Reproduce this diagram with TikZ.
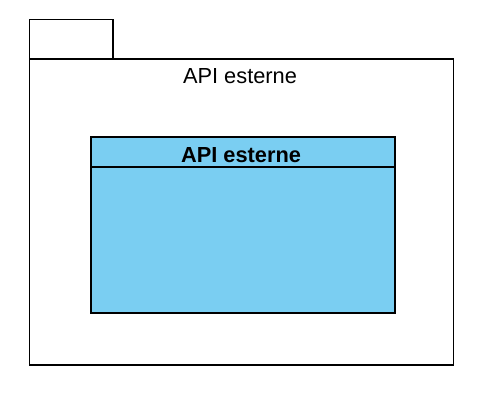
\documentclass[tikz,border=0pt]{standalone}
\usepackage{fontspec}
\setmainfont{Liberation Sans}
\definecolor{classblue}{RGB}{122,206,242}
\begin{document}
\begin{tikzpicture}[x=1pt,y=-1pt,
  line/.style={draw=black,line width=1.6pt},
  lbl/.style={inner sep=0pt,font=\fontsize{21.8}{25}\selectfont}]
\useasboundingbox (0,0) rectangle (500,400);
\path[line] (29.5,19.5) rectangle (113,59);
\path[line] (29.5,59) rectangle (453.5,365);
\node[lbl,anchor=base] (pkglabel) at (240,83.5) {API esterne};
\path[line,fill=classblue] (91,137) rectangle (395,313);
\draw[line] (91,167) -- (395,167);
\node[lbl,anchor=base,font=\fontsize{21.8}{25}\selectfont\bfseries] (classlabel) at (241,162) {API esterne};
\end{tikzpicture}
\end{document}
